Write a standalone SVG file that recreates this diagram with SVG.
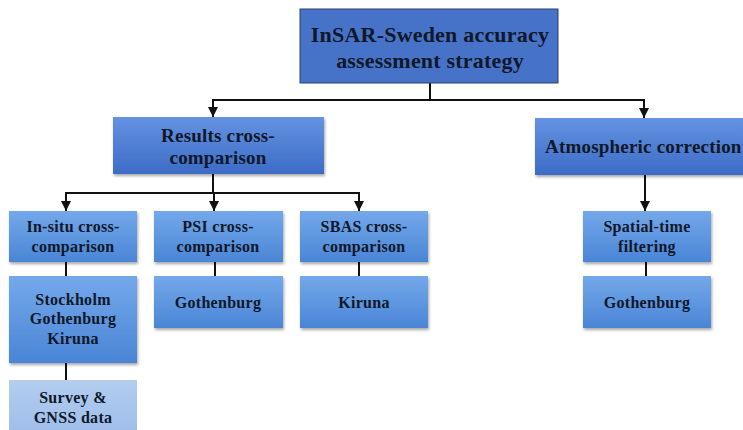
<svg xmlns="http://www.w3.org/2000/svg" width="743" height="430" viewBox="0 0 743 430">
<style>
text{font-family:"Liberation Serif","DejaVu Serif",serif;font-weight:bold;fill:#10182a;text-anchor:middle}
.t1{font-size:22px;letter-spacing:0.2px}
.t2{font-size:19px;letter-spacing:0.2px}
.t3{font-size:16px;letter-spacing:0.3px}
.conn line{stroke:#111;stroke-width:2}
</style>
<defs>
<linearGradient id="gMid" x1="0" y1="0" x2="0" y2="1">
<stop offset="0" stop-color="#6493e2"/><stop offset="1" stop-color="#3c6cc6"/>
</linearGradient>
<linearGradient id="gLow" x1="0" y1="0" x2="0" y2="1">
<stop offset="0" stop-color="#74a8ea"/><stop offset="1" stop-color="#4a85d6"/>
</linearGradient>
<linearGradient id="gLight" x1="0" y1="0" x2="0" y2="1">
<stop offset="0" stop-color="#b4cdf0"/><stop offset="1" stop-color="#9dbde9"/>
</linearGradient>
<filter id="sh" x="-10%" y="-10%" width="130%" height="140%">
<feDropShadow dx="1" dy="2" stdDeviation="1.5" flood-color="#000" flood-opacity="0.35"/>
</filter>
<marker id="ar" viewBox="0 0 10 10" refX="10" refY="5" markerWidth="5" markerHeight="5" orient="auto">
<path d="M0,0 L10,5 L0,10 z" fill="#111"/>
</marker>
</defs>
<rect width="743" height="430" fill="#fff"/>
<g class="conn">
<line x1="430" y1="83" x2="430" y2="100"/>
<line x1="212" y1="100" x2="644" y2="100"/>
<line x1="213" y1="99" x2="213" y2="117" marker-end="url(#ar)"/>
<line x1="644" y1="99" x2="644" y2="118" marker-end="url(#ar)"/>
<line x1="213" y1="174" x2="213" y2="193"/>
<line x1="65" y1="193" x2="360" y2="193"/>
<line x1="66" y1="192" x2="66" y2="211" marker-end="url(#ar)"/>
<line x1="214" y1="192" x2="214" y2="211" marker-end="url(#ar)"/>
<line x1="359" y1="192" x2="359" y2="211" marker-end="url(#ar)"/>
<line x1="645" y1="175" x2="645" y2="211" marker-end="url(#ar)"/>
<line x1="66" y1="262" x2="66" y2="276"/>
<line x1="66" y1="363" x2="66" y2="380"/>
<line x1="215" y1="262" x2="215" y2="276"/>
<line x1="359" y1="262" x2="359" y2="276"/>
<line x1="646" y1="262" x2="646" y2="276"/>
</g>
<g id="root">
<rect x="300" y="9" width="258" height="74" fill="#4673c8" stroke="#2a3f6a" stroke-width="1"/>
<text class="t1" x="430" y="42">InSAR-Sweden accuracy</text>
<text class="t1" x="430" y="68">assessment strategy</text>
</g>
<g id="results">
<rect x="113" y="117" width="211" height="57" fill="url(#gMid)" filter="url(#sh)"/>
<text class="t2" x="218" y="142">Results cross-</text>
<text class="t2" x="218" y="164">comparison</text>
</g>
<g id="atmos">
<rect x="535" y="118" width="215" height="57" fill="url(#gMid)" filter="url(#sh)"/>
<text class="t2" x="545" y="153" style="text-anchor:start">Atmospheric correction</text>
</g>
<g id="insitu">
<rect x="9" y="211" width="128" height="51" fill="url(#gLow)" filter="url(#sh)"/>
<text class="t3" x="73" y="232">In-situ cross-</text>
<text class="t3" x="73" y="252">comparison</text>
</g>
<g id="psi">
<rect x="154" y="211" width="129" height="51" fill="url(#gLow)" filter="url(#sh)"/>
<text class="t3" x="218" y="232">PSI cross-</text>
<text class="t3" x="218" y="252">comparison</text>
</g>
<g id="sbas">
<rect x="300" y="211" width="128" height="51" fill="url(#gLow)" filter="url(#sh)"/>
<text class="t3" x="364" y="232">SBAS cross-</text>
<text class="t3" x="364" y="252">comparison</text>
</g>
<g id="spatial">
<rect x="583" y="211" width="128" height="51" fill="url(#gLow)" filter="url(#sh)"/>
<text class="t3" x="647" y="232">Spatial-time</text>
<text class="t3" x="647" y="252">filtering</text>
</g>
<g id="cities">
<rect x="9" y="276" width="128" height="87" fill="url(#gLow)" filter="url(#sh)"/>
<text class="t3" x="73" y="305">Stockholm</text>
<text class="t3" x="73" y="324">Gothenburg</text>
<text class="t3" x="73" y="344">Kiruna</text>
</g>
<g id="psi-goth">
<rect x="154" y="276" width="129" height="52" fill="url(#gLow)" filter="url(#sh)"/>
<text class="t3" x="218" y="308">Gothenburg</text>
</g>
<g id="sbas-kiruna">
<rect x="300" y="276" width="128" height="52" fill="url(#gLow)" filter="url(#sh)"/>
<text class="t3" x="364" y="308">Kiruna</text>
</g>
<g id="spatial-goth">
<rect x="583" y="276" width="128" height="52" fill="url(#gLow)" filter="url(#sh)"/>
<text class="t3" x="647" y="308">Gothenburg</text>
</g>
<g id="survey">
<rect x="9" y="380" width="128" height="55" fill="url(#gLight)"/>
<text class="t3" x="73" y="403">Survey &amp;</text>
<text class="t3" x="73" y="423">GNSS data</text>
</g>
</svg>
